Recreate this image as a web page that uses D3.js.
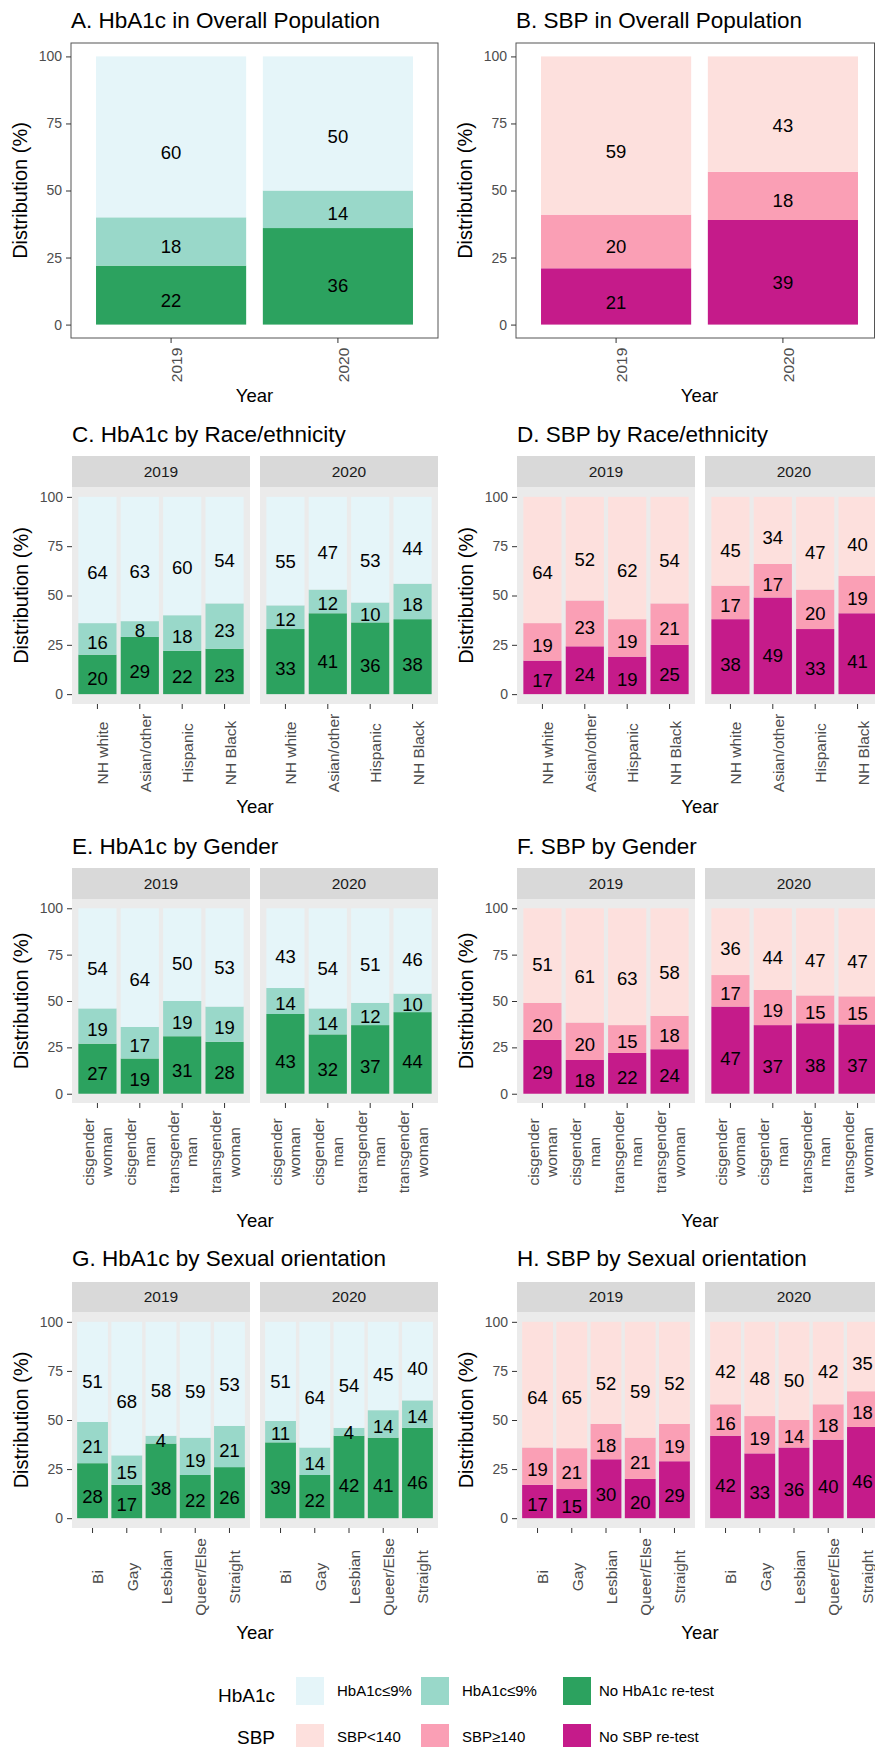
<!DOCTYPE html>
<meta charset="utf-8">
<style>
  body { margin: 0; background: #fff; }
  svg { display: block; }
</style>
<body>
<script src="https://d3js.org/d3.v7.min.js"></script>
<script>

// ---- categories and tick labels
var years = ["2019", "2020"];
var race = ["NH white", "Asian/other", "Hispanic", "NH Black"];
var gender = ["cisgender woman", "cisgender man", "transgender man", "transgender woman"];
var orientation = ["Bi", "Gay", "Lesbian", "Queer/Else", "Straight"];
var yTicks = [0, 25, 50, 75, 100];

// ---- values (%), bottom to top: no re-test, above threshold, at/below threshold
// overall: one value per year
var hbOverallNoRetest = [22, 36];
var hbOverallHigh = [18, 14];
var hbOverallLow = [60, 50];
var sbpOverallNoRetest = [21, 39];
var sbpOverallHigh = [20, 18];
var sbpOverallLow = [59, 43];

// by group: [2019 values, 2020 values]
var hbRaceNoRetest = [[20, 29, 22, 23], [33, 41, 36, 38]];
var hbRaceHigh = [[16, 8, 18, 23], [12, 12, 10, 18]];
var hbRaceLow = [[64, 63, 60, 54], [55, 47, 53, 44]];
var sbpRaceNoRetest = [[17, 24, 19, 25], [38, 49, 33, 41]];
var sbpRaceHigh = [[19, 23, 19, 21], [17, 17, 20, 19]];
var sbpRaceLow = [[64, 52, 62, 54], [45, 34, 47, 40]];

var hbGenderNoRetest = [[27, 19, 31, 28], [43, 32, 37, 44]];
var hbGenderHigh = [[19, 17, 19, 19], [14, 14, 12, 10]];
var hbGenderLow = [[54, 64, 50, 53], [43, 54, 51, 46]];
var sbpGenderNoRetest = [[29, 18, 22, 24], [47, 37, 38, 37]];
var sbpGenderHigh = [[20, 20, 15, 18], [17, 19, 15, 15]];
var sbpGenderLow = [[51, 61, 63, 58], [36, 44, 47, 47]];

var hbOrientNoRetest = [[28, 17, 38, 22, 26], [39, 22, 42, 41, 46]];
var hbOrientHigh = [[21, 15, 4, 19, 21], [11, 14, 4, 14, 14]];
var hbOrientLow = [[51, 68, 58, 59, 53], [51, 64, 54, 45, 40]];
var sbpOrientNoRetest = [[17, 15, 30, 20, 29], [42, 33, 36, 40, 46]];
var sbpOrientHigh = [[19, 21, 18, 21, 19], [16, 19, 14, 18, 18]];
var sbpOrientLow = [[64, 65, 52, 59, 52], [42, 48, 50, 42, 35]];

// legend labels
var hbLegend = ["HbA1c\u22649%", "HbA1c\u22649%", "No HbA1c re-test"];
var sbpLegend = ["SBP<140", "SBP\u2265140", "No SBP re-test"];

// colours, bottom to top
var hbColors = ["#2CA25F", "#99D8C9", "#E5F5F9"];
var sbpColors = ["#C51B8A", "#FA9FB5", "#FDE0DD"];

var font = "'Liberation Sans', Arial, Helvetica, sans-serif";

var svg = d3.select("body").append("svg")
  .attr("width", 875)
  .attr("height", 1747)
  .attr("font-family", font);

// stack one bar, normalised to 100 like position_fill
function stackBar(vals) {
  var total = d3.sum(vals), acc = 0;
  return vals.map(function (v, i) {
    var s = v / total * 100;
    var d = { i: i, value: v, y0: acc, y1: acc + s };
    acc += s;
    return d;
  });
}

function drawBars(g, x, y, cats, valueAt, colors) {
  cats.forEach(function (c, k) {
    var segs = stackBar(valueAt(k));
    var bar = g.append("g");
    bar.selectAll("rect").data(segs).join("rect")
      .attr("x", x(c))
      .attr("width", x.bandwidth())
      .attr("y", function (d) { return y(d.y1); })
      .attr("height", function (d) { return y(d.y0) - y(d.y1); })
      .attr("fill", function (d) { return colors[d.i]; });
    bar.selectAll("text").data(segs).join("text")
      .attr("x", x(c) + x.bandwidth() / 2)
      .attr("y", function (d) { return y(d.y0 + 0.4 * (d.y1 - d.y0)); })
      .attr("dy", "0.35em")
      .attr("text-anchor", "middle")
      .attr("font-size", 18.5)
      .attr("fill", "#000")
      .text(function (d) { return d.value; });
  });
}

function yAxis(g, y, x0) {
  var ax = g.append("g")
    .attr("transform", "translate(" + x0 + ",0)")
    .call(d3.axisLeft(y).tickValues(yTicks).tickSize(5).tickPadding(4));
  ax.attr("font-family", font);
  ax.select(".domain").remove();
  ax.selectAll(".tick line").attr("stroke", "#333333");
  ax.selectAll(".tick text").attr("fill", "#4D4D4D").attr("font-size", 14);
}

function xAxis(g, x, cats, yBase, labelY, wrap) {
  var ax = g.append("g")
    .attr("transform", "translate(0," + yBase + ")")
    .call(d3.axisBottom(x).tickSize(5).tickFormat(""));
  ax.select(".domain").remove();
  ax.selectAll(".tick line").attr("stroke", "#333333");
  cats.forEach(function (c) {
    var cx = x(c) + x.bandwidth() / 2;
    var lines = wrap ? c.split(" ") : [c];
    lines.forEach(function (line, j) {
      var off = lines.length === 1 ? 5.5 : (j === 0 ? -9 : 9.5);
      g.append("text")
        .attr("transform", "translate(" + (cx + off) + "," + labelY + ") rotate(-90)")
        .attr("dy", "0.35em")
        .attr("text-anchor", "middle")
        .attr("font-size", 15.5)
        .attr("fill", "#4D4D4D")
        .text(line);
    });
  });
}

function titles(o, top, bottom) {
  svg.append("text")
    .attr("x", o.x0).attr("y", o.titleY)
    .attr("font-size", 22.5)
    .text(o.title);
  svg.append("text")
    .attr("transform", "translate(" + (o.x0 - 51) + "," + ((top + bottom) / 2) + ") rotate(-90)")
    .attr("dy", "0.35em")
    .attr("text-anchor", "middle")
    .attr("font-size", 20)
    .text("Distribution (%)");
  svg.append("text")
    .attr("x", (o.x0 + o.x1) / 2).attr("y", o.yearY)
    .attr("text-anchor", "middle")
    .attr("font-size", 18.5)
    .text("Year");
}

// panels A and B: bordered white panel, one bar per year
function drawOverall(o) {
  var g = svg.append("g");
  var x = d3.scaleBand().domain(years).range([o.x0, o.x1]).paddingInner(0.1).paddingOuter(0.15);
  var y = d3.scaleLinear().domain([-5, 105]).range([o.bottom, o.top]);
  drawBars(g, x, y, years, function (k) {
    return o.series.map(function (s) { return s[k]; });
  }, o.colors);
  g.append("rect")
    .attr("x", o.x0).attr("y", o.top)
    .attr("width", Math.min(o.x1, 874.5) - o.x0).attr("height", o.bottom - o.top)
    .attr("fill", "none").attr("stroke", "#555").attr("stroke-width", 1);
  yAxis(g, y, o.x0);
  xAxis(g, x, years, o.bottom, o.labelY, false);
  titles(o, o.top, o.bottom);
}

// panels C-H: two facets (2019, 2020) with grey strips
function drawFacet(o) {
  var gap = 10;
  var fw = (o.x1 - o.x0 - gap) / 2;
  var y = d3.scaleLinear().domain([-5, 105]).range([o.panelBottom, o.panelTop]);
  years.forEach(function (yr, yi) {
    var fx = o.x0 + yi * (fw + gap);
    var g = svg.append("g");
    g.append("rect")
      .attr("x", fx).attr("y", o.stripTop)
      .attr("width", fw).attr("height", o.panelTop - o.stripTop)
      .attr("fill", "#D9D9D9");
    g.append("text")
      .attr("x", fx + fw / 2).attr("y", (o.stripTop + o.panelTop) / 2)
      .attr("dy", "0.35em")
      .attr("text-anchor", "middle")
      .attr("font-size", 15.5)
      .attr("fill", "#1A1A1A")
      .text(yr);
    g.append("rect")
      .attr("x", fx).attr("y", o.panelTop)
      .attr("width", fw).attr("height", o.panelBottom - o.panelTop)
      .attr("fill", "#EBEBEB");
    var x = d3.scaleBand().domain(o.cats).range([fx, fx + fw]).paddingInner(0.1).paddingOuter(0.15);
    drawBars(g, x, y, o.cats, function (k) {
      return o.series.map(function (s) { return s[yi][k]; });
    }, o.colors);
    if (yi === 0) yAxis(g, y, fx);
    xAxis(g, x, o.cats, o.panelBottom, o.labelY, o.wrap);
  });
  titles(o, o.panelTop, o.panelBottom);
}

var right = 445;

drawOverall({ x0: 71, x1: 438, top: 43, bottom: 338, titleY: 28, labelY: 365, yearY: 402,
  title: "A. HbA1c in Overall Population", colors: hbColors,
  series: [hbOverallNoRetest, hbOverallHigh, hbOverallLow] });
drawOverall({ x0: 71 + right, x1: 438 + right, top: 43, bottom: 338, titleY: 28, labelY: 365, yearY: 402,
  title: "B. SBP in Overall Population", colors: sbpColors,
  series: [sbpOverallNoRetest, sbpOverallHigh, sbpOverallLow] });

var rows = [
  { stripTop: 456, panelTop: 487, panelBottom: 704, titleY: 442, labelY: 753, yearY: 813, cats: race, wrap: false,
    titles: ["C. HbA1c by Race/ethnicity", "D. SBP by Race/ethnicity"],
    hb: [hbRaceNoRetest, hbRaceHigh, hbRaceLow], sbp: [sbpRaceNoRetest, sbpRaceHigh, sbpRaceLow] },
  { stripTop: 868, panelTop: 899, panelBottom: 1103, titleY: 854, labelY: 1152, yearY: 1227, cats: gender, wrap: true,
    titles: ["E. HbA1c by Gender", "F. SBP by Gender"],
    hb: [hbGenderNoRetest, hbGenderHigh, hbGenderLow], sbp: [sbpGenderNoRetest, sbpGenderHigh, sbpGenderLow] },
  { stripTop: 1282, panelTop: 1312, panelBottom: 1528, titleY: 1266, labelY: 1577, yearY: 1639, cats: orientation, wrap: false,
    titles: ["G. HbA1c by Sexual orientation", "H. SBP by Sexual orientation"],
    hb: [hbOrientNoRetest, hbOrientHigh, hbOrientLow], sbp: [sbpOrientNoRetest, sbpOrientHigh, sbpOrientLow] }
];

rows.forEach(function (r) {
  [0, 1].forEach(function (c) {
    drawFacet({ x0: 72 + c * right, x1: 438 + c * right,
      stripTop: r.stripTop, panelTop: r.panelTop, panelBottom: r.panelBottom,
      titleY: r.titleY, labelY: r.labelY, yearY: r.yearY, cats: r.cats, wrap: r.wrap,
      title: r.titles[c], colors: c === 0 ? hbColors : sbpColors,
      series: c === 0 ? r.hb : r.sbp });
  });
});

// ---- legend
var legend = svg.append("g");
var legendRows = [
  { name: "HbA1c", labels: hbLegend, colors: hbColors.slice().reverse(), top: 1677, nameY: 1702, textY: 1696 },
  { name: "SBP", labels: sbpLegend, colors: sbpColors.slice().reverse(), top: 1724, nameY: 1744, textY: 1742 }
];
var swatchX = [296, 421, 563];
legendRows.forEach(function (r) {
  legend.append("text")
    .attr("x", 275).attr("y", r.nameY)
    .attr("text-anchor", "end")
    .attr("font-size", 19)
    .text(r.name);
  r.labels.forEach(function (lab, i) {
    legend.append("rect")
      .attr("x", swatchX[i]).attr("y", r.top)
      .attr("width", 28).attr("height", 28)
      .attr("fill", r.colors[i]);
    legend.append("text")
      .attr("x", swatchX[i] + (i === 2 ? 36 : 41)).attr("y", r.textY)
      .attr("font-size", 15)
      .text(lab);
  });
});

</script>
</body>
